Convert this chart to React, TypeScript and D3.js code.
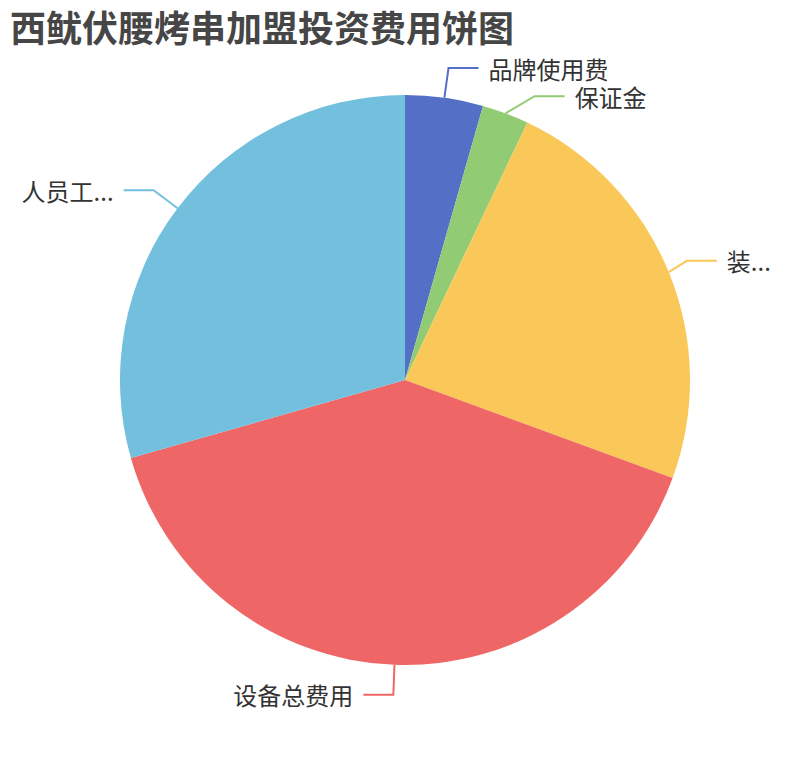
import React, { useEffect, useRef } from 'react'
import * as d3 from 'd3'

// chart content
const title = '西鱿伏腰烤串加盟投资费用饼图'
const categories = ['品牌使用费', '保证金', '装...', '设备总费用', '人员工...']
const values = [1.5, 0.9, 8, 13.6, 10]
const palette = ['#5470c6', '#91cc75', '#fac858', '#ee6666', '#73c0de']

const width = 810
const height = 760
const fontFamily = '"Noto Sans CJK SC", "Noto Sans", sans-serif'

interface LabelItem {
  name: string
  color: string
  dir: number
  x1: number
  y1: number
  x: number
  y: number
}

export default function App() {
  const svgRef = useRef(null)

  useEffect(() => {
    const svgEl = d3.select(svgRef.current)
    svgEl.selectAll('*').remove()

    const cx = width / 2
    const cy = height / 2
    const r = (Math.min(width, height) / 2) * 0.75
    const len = 30
    const len2 = 30
    const labelDistance = 10
    const fontSize = 24
    const labelHeight = fontSize + 4.2

    const data = categories.map((name, i) => ({ name, value: values[i], color: palette[i] }))
    const arcs = d3
      .pie<any>()
      .sort(null)
      .value((d) => d.value)(data)
    const arc = d3.arc<any>().innerRadius(0).outerRadius(r)

    // slices
    svgEl
      .append('g')
      .attr('transform', `translate(${cx}, ${cy})`)
      .selectAll('path')
      .data(arcs)
      .enter()
      .append('path')
      .attr('d', arc)
      .attr('fill', (d) => d.data.color)

    // label positions, echarts style
    const labels: LabelItem[] = arcs.map((a) => {
      const mid = (a.startAngle + a.endAngle) / 2
      const dx = Math.sin(mid)
      const dy = -Math.cos(mid)
      const dir = dx < 0 ? -1 : 1
      return {
        name: a.data.name,
        color: a.data.color,
        dir,
        x1: cx + r * dx,
        y1: cy + r * dy,
        x: cx + (r + len) * dx + dir * (len2 + labelDistance),
        y: cy + (r + len) * dy,
      }
    })

    // push overlapping labels down, then put the side back on an ellipse
    ;[1, -1].forEach((dir) => {
      const side = labels.filter((l) => l.dir === dir).sort((a, b) => a.y - b.y)
      if (side.length < 2) return
      let shifted = false
      for (let i = 1; i < side.length; i++) {
        const minY = side[i - 1].y + labelHeight
        if (side[i].y < minY) {
          side[i].y = minY
          shifted = true
        }
      }
      if (!shifted) return
      const rA = r + len
      ;[side.filter((l) => l.y <= cy), side.filter((l) => l.y > cy)].forEach((semi) => {
        if (!semi.length) return
        let rB = rA
        let maxY = 0
        semi.forEach((l) => {
          const ddy = Math.abs(l.y - cy)
          if (ddy >= maxY) {
            const ddx = l.x - cx - len2 * dir
            rB = Math.abs(ddx) < rA ? Math.sqrt((ddy * ddy) / (1 - (ddx * ddx) / rA / rA)) : rA
            maxY = ddy
          }
        })
        semi.forEach((l) => {
          const ddy = Math.abs(l.y - cy)
          const ddx = Math.sqrt(Math.max(0, 1 - (ddy * ddy) / rB / rB) * rA * rA)
          l.x = cx + (ddx + len2) * dir
        })
      })
    })

    // label lines
    const line = d3.line()
    svgEl
      .append('g')
      .selectAll('path')
      .data(labels)
      .enter()
      .append('path')
      .attr('d', (l) => {
        const x3 = l.x - l.dir * labelDistance
        const x2 = x3 - l.dir * len2
        return line([
          [l.x1, l.y1],
          [x2, l.y],
          [x3, l.y],
        ])
      })
      .attr('fill', 'none')
      .attr('stroke', (l) => l.color)
      .attr('stroke-width', 2)

    // label texts
    svgEl
      .append('g')
      .selectAll('text')
      .data(labels)
      .enter()
      .append('text')
      .attr('x', (l) => l.x)
      .attr('y', (l) => l.y)
      .attr('text-anchor', (l) => (l.dir < 0 ? 'end' : 'start'))
      .attr('dominant-baseline', 'central')
      .style('font-family', fontFamily)
      .style('font-size', `${fontSize}px`)
      .style('fill', '#333')
      .text((l) => l.name)

    // title
    svgEl
      .append('text')
      .attr('x', 10)
      .attr('y', 42)
      .style('font-family', fontFamily)
      .style('font-size', '36px')
      .style('font-weight', 'bold')
      .style('fill', '#464646')
      .text(title)
  }, [])

  return (
    <svg
      ref={svgRef}
      width={width}
      height={height}
      style={{ position: 'absolute', left: 0, top: 0, background: '#fff' }}
    />
  )
}
